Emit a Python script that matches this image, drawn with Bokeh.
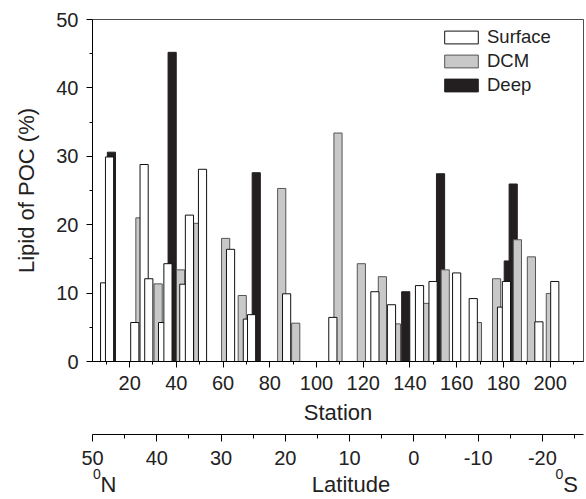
from bokeh.plotting import figure
from bokeh.models import (Range1d, LinearAxis, FixedTicker, Legend,
                          LegendItem, Title)
from bokeh.embed import file_html
from bokeh.resources import INLINE

# ---- data ----
surface_station = [9.3, 11.4, 22.2, 26.2, 28.2, 34.1, 36.4, 43.2, 45.6, 51.2,
                   63.2, 70.4, 72.2, 87.2, 107.0, 125.0, 132.1, 144.1, 149.9,
                   160.0, 167.1, 179.2, 181.3, 195.2, 202.0]
surface_value = [11.5, 29.9, 5.7, 28.8, 12.1, 5.7, 14.3, 11.3, 21.4, 28.1,
                 16.4, 6.2, 6.85, 9.9, 6.45, 10.2, 8.3, 11.1, 11.7,
                 12.95, 9.2, 7.95, 11.7, 5.8, 11.7]
dcm_station = [24.4, 32.2, 41.8, 49.2, 61.1, 68.2, 85.1, 91.1, 109.2, 119.2,
               128.2, 134.2, 146.5, 155.1, 168.9, 177.1, 186.0, 192.0, 200.1]
dcm_value = [21.0, 11.35, 13.4, 20.2, 18.0, 9.65, 25.3, 5.6, 33.4, 14.3,
             12.4, 5.5, 8.5, 13.4, 5.7, 12.1, 17.8, 15.3, 9.95]
deep_station = [12.2, 38.2, 74.2, 138.2, 153.1, 182.1, 184.2]
deep_value = [30.6, 45.2, 27.6, 10.2, 27.45, 14.7, 25.95]

station_ticks = [20, 40, 60, 80, 100, 120, 140, 160, 180, 200]
station_minor = [10, 30, 50, 70, 90, 110, 130, 150, 170, 190, 210]
y_ticks = [0, 10, 20, 30, 40, 50]
y_minor = [5, 15, 25, 35, 45]
lat_ticks = [50, 40, 30, 20, 10, 0, -10, -20]
lat_minor = [45, 35, 25, 15, 5, -5, -15, -25]

# texts under the latitude axis (positions along the latitude scale)
sup_pos = [49.33, -22.66]
sup_text = ["0", "0"]
name_pos = [47.51, 9.78, -24.40]
name_text = ["N", "Latitude", "S"]

FONT = "Liberation Sans"
TICK_FS = "20px"
TITLE_FS = "22px"
TXT = "#222222"

p = figure(width=586, height=499, output_backend="svg", toolbar_location=None,
           x_range=Range1d(4.1, 214.3), y_range=Range1d(0, 50),
           min_border_left=92, min_border_right=3, min_border_top=19,
           min_border_bottom=136)
p.extra_x_ranges = {"lat": Range1d(50, -26.4)}

p.xgrid.visible = False
p.ygrid.visible = False
p.outline_line_color = "#4d4d4d"
p.outline_line_width = 1
p.background_fill_color = "white"
p.border_fill_color = "white"

W = 3.5
r_deep = p.vbar(x=deep_station, top=deep_value, width=W, bottom=0,
                fill_color="#231f20", line_color="#231f20", line_width=1)
r_dcm = p.vbar(x=dcm_station, top=dcm_value, width=W, bottom=0,
               fill_color="#c8c8c8", line_color="#555555", line_width=1)
r_surf = p.vbar(x=surface_station, top=surface_value, width=W, bottom=0,
                fill_color="white", line_color="#111111", line_width=1)


def style_axis(ax, fs=TICK_FS):
    ax.axis_line_color = "black"
    ax.major_tick_line_color = "black"
    ax.minor_tick_line_color = "black"
    ax.major_tick_in = 0
    ax.minor_tick_in = 0
    ax.major_label_text_font = FONT
    ax.major_label_text_font_size = fs
    ax.major_label_text_color = TXT
    ax.axis_label_text_font = FONT
    ax.axis_label_text_font_size = TITLE_FS
    ax.axis_label_text_font_style = "normal"
    ax.axis_label_text_color = TXT


xa = p.xaxis[0]
style_axis(xa)
xa.ticker = FixedTicker(ticks=station_ticks, minor_ticks=station_minor)
xa.axis_label = "Station"
xa.major_tick_out = 6
xa.minor_tick_out = 3
xa.major_label_standoff = 8
xa.axis_label_standoff = 7

ya = p.yaxis[0]
style_axis(ya)
ya.ticker = FixedTicker(ticks=y_ticks, minor_ticks=y_minor)
ya.axis_label = "Lipid of POC (%)"
ya.major_tick_out = 6
ya.minor_tick_out = 3
ya.major_label_standoff = 8
ya.axis_label_standoff = 14

# small spacer between the two horizontal axes
p.add_layout(Title(text=" ", text_font_size="4px", standoff=0), "below")

lat = LinearAxis(x_range_name="lat")
style_axis(lat)
lat.ticker = FixedTicker(ticks=lat_ticks, minor_ticks=lat_minor)
lat.major_label_overrides = {-10: "-10", -20: "-20"}
lat.major_tick_out = 7
lat.minor_tick_out = 4
lat.major_label_standoff = 9
p.add_layout(lat, "below")


def text_axis(pos, texts, fs, standoff):
    ax = LinearAxis(x_range_name="lat")
    style_axis(ax, fs)
    ax.axis_line_color = None
    ax.major_tick_line_color = None
    ax.minor_tick_line_color = None
    ax.major_tick_out = 0
    ax.minor_tick_out = 0
    ax.ticker = FixedTicker(ticks=pos, minor_ticks=[])
    ax.major_label_overrides = {k: t for k, t in zip(pos, texts)}
    ax.major_label_standoff = standoff
    return ax


p.add_layout(text_axis(sup_pos, sup_text, "14px", 1), "below")
p.add_layout(text_axis(name_pos, name_text, TITLE_FS, -10), "below")

legend = Legend(items=[LegendItem(label="Surface", renderers=[r_surf]),
                       LegendItem(label="DCM", renderers=[r_dcm]),
                       LegendItem(label="Deep", renderers=[r_deep])],
                location="top_right")
legend.border_line_color = None
legend.background_fill_alpha = 0
legend.padding = 0
legend.margin = 7
legend.spacing = 2
legend.glyph_width = 42
legend.glyph_height = 16
legend.label_height = 20
legend.label_width = 89
legend.label_standoff = 5
legend.label_text_font = FONT
legend.label_text_font_size = "18.5px"
legend.label_text_color = TXT
p.add_layout(legend)

open("out.html", "w").write(file_html(p, INLINE))
